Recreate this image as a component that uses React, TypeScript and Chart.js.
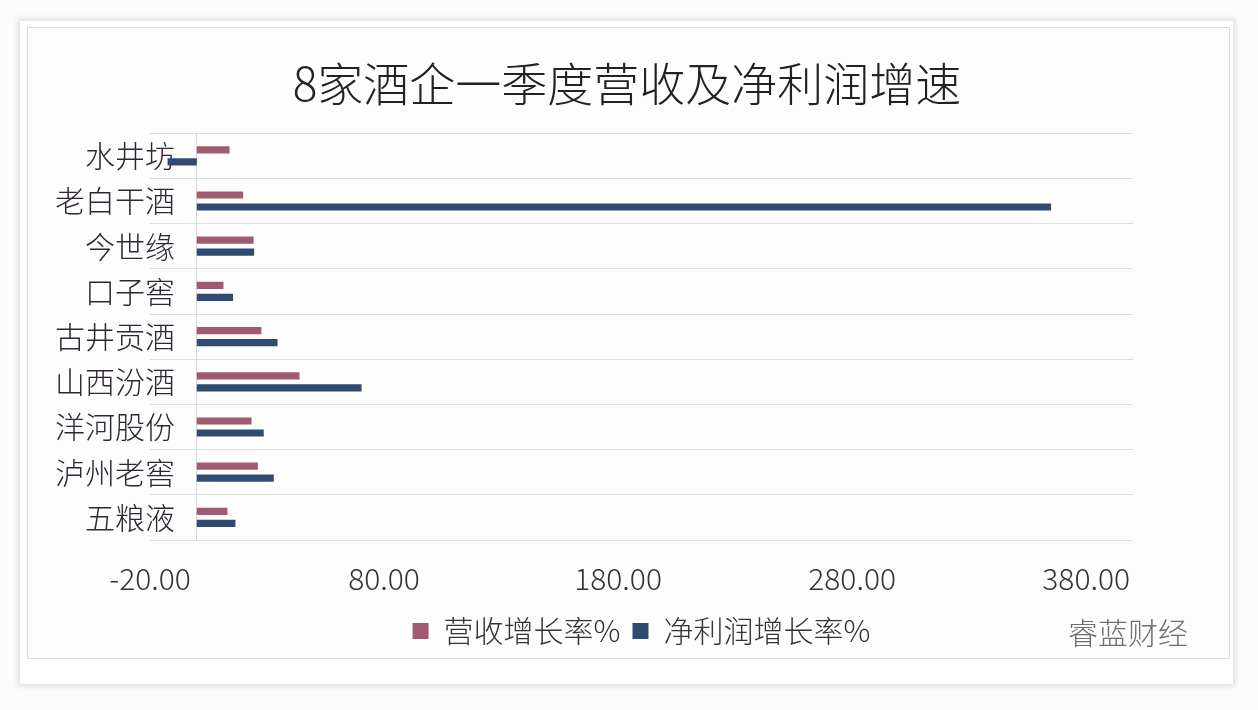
import React, { useEffect, useRef } from 'react';
import { Chart, registerables } from 'chart.js';

Chart.register(...registerables);

const TITLE = '8家酒企一季度营收及净利润增速';
const WATERMARK = '睿蓝财经';
const categories = ['水井坊', '老白干酒', '今世缘', '口子窖', '古井贡酒', '山西汾酒', '洋河股份', '泸州老窖', '五粮液'];
const revenueGrowth = [14.0, 19.8, 24.3, 11.4, 27.6, 43.9, 23.4, 26.1, 13.1];
const profitGrowth = [-12.5, 365.0, 24.5, 15.5, 34.5, 70.4, 28.6, 32.9, 16.5];
const seriesNames = ['营收增长率%', '净利润增长率%'];
const seriesColors = ['#a15b71', '#2f4c70'];
const xTickValues = [-20, 80, 180, 280, 380];
const X_MIN = -20;
const X_MAX = 400;

const FONT = '"Noto Sans CJK SC", "Noto Sans", sans-serif';

const zeroLine = {
  id: 'zeroLine',
  beforeDatasetsDraw(chart: any) {
    const { ctx, chartArea, scales } = chart;
    const x = Math.round(scales.x.getPixelForValue(0)) - 0.5;
    ctx.save();
    ctx.strokeStyle = '#d3d6db';
    ctx.lineWidth = 1;
    ctx.beginPath();
    ctx.moveTo(x, chartArea.top);
    ctx.lineTo(x, chartArea.bottom);
    ctx.stroke();
    ctx.restore();
  },
};

export default function App() {
  const ref = useRef<HTMLCanvasElement | null>(null);

  useEffect(() => {
    if (!ref.current) return;
    Chart.defaults.font.family = FONT;
    const chart = new Chart(ref.current, {
      type: 'bar',
      data: {
        labels: categories,
        datasets: [
          {
            label: seriesNames[0],
            data: revenueGrowth,
            backgroundColor: seriesColors[0],
            borderWidth: 0,
            categoryPercentage: 0.53,
            barPercentage: 0.6,
          },
          {
            label: seriesNames[1],
            data: profitGrowth,
            backgroundColor: seriesColors[1],
            borderWidth: 0,
            categoryPercentage: 0.53,
            barPercentage: 0.6,
          },
        ],
      },
      options: {
        indexAxis: 'y',
        animation: false,
        responsive: false,
        devicePixelRatio: 1,
        layout: { padding: { left: 121, right: 125, top: 0, bottom: 54 } },
        plugins: {
          title: {
            display: true,
            text: TITLE,
            color: '#222222',
            fullSize: true,
            font: { size: 46, weight: '300', family: FONT },
            padding: { top: 56, bottom: 22 },
          },
          legend: {
            display: true,
            position: 'bottom',
            fullSize: false,
            labels: {
              boxWidth: 16,
              boxHeight: 16,
              padding: 12,
              color: '#333333',
              font: { size: 30, weight: '300', family: FONT },
            },
          },
          tooltip: { enabled: false },
        },
        scales: {
          x: {
            type: 'linear',
            min: X_MIN,
            max: X_MAX,
            afterBuildTicks: (s: any) => {
              s.ticks = xTickValues.map((v) => ({ value: v }));
            },
            afterFit: (s: any) => {
              s.height = 64;
            },
            grid: { display: false },
            border: { display: false },
            ticks: {
              autoSkip: false,
              maxRotation: 0,
              padding: 13,
              color: '#333333',
              font: { size: 30, weight: '300', family: FONT },
              callback: (v: any) => Number(v).toFixed(2),
            },
          },
          y: {
            type: 'category',
            afterFit: (s: any) => {
              s.width = 29;
            },
            grid: { display: true, color: '#dcdde0', drawTicks: false, offset: true },
            border: { display: false },
            ticks: {
              mirror: true,
              crossAlign: 'far',
              padding: -95,
              color: '#2e2630',
              font: { size: 30, weight: '300', family: FONT },
            },
          },
        },
      },
      plugins: [zeroLine],
    });
    return () => chart.destroy();
  }, []);

  return (
    <div style={{ position: 'fixed', left: 0, top: 0, width: 1258, height: 710, background: '#fcfcfd', overflow: 'hidden' }}>
      <div
        style={{
          position: 'absolute',
          left: 20,
          top: 21,
          width: 1213,
          height: 663,
          background: '#ffffff',
          boxShadow: '0 0 6px 2px rgba(0,0,0,0.13)',
        }}
      />
      <div
        style={{
          position: 'absolute',
          left: 27,
          top: 27,
          width: 1201,
          height: 630,
          border: '1px solid #d8dade',
          background: '#fdfdfe',
        }}
      />
      <canvas ref={ref} width={1258} height={710} style={{ position: 'absolute', left: 0, top: 0, width: 1258, height: 710 }} />
      <div
        style={{
          position: 'absolute',
          left: 1068,
          top: 613,
          fontFamily: FONT,
          fontWeight: 300,
          fontSize: 30,
          lineHeight: '36px',
          color: '#6f6f72',
          whiteSpace: 'nowrap',
        }}
      >
        {WATERMARK}
      </div>
    </div>
  );
}
